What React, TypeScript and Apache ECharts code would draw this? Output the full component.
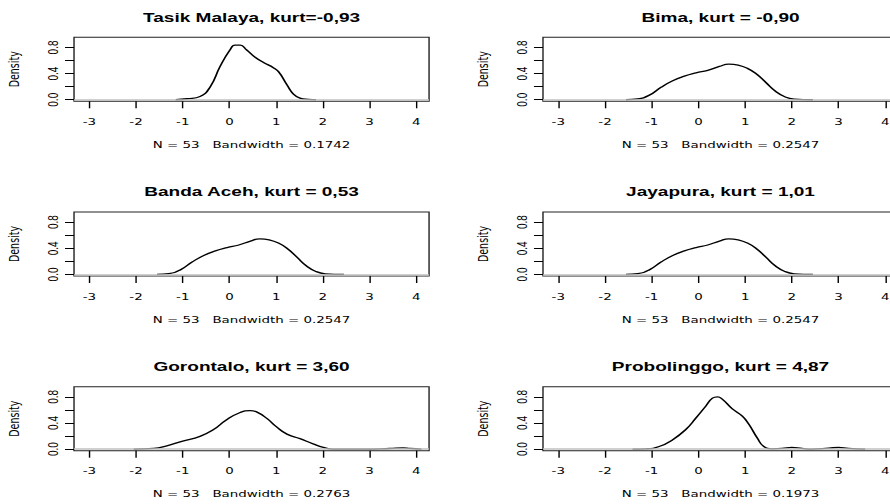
import React, { useEffect, useRef } from "react";
import * as echarts from "echarts";

// ---------- data ----------
const titles = [
  "Tasik Malaya, kurt=-0,93",
  "Bima, kurt = -0,90",
  "Banda Aceh, kurt = 0,53",
  "Jayapura, kurt = 1,01",
  "Gorontalo, kurt = 3,60",
  "Probolinggo, kurt = 4,87",
];
const sampleSize = 53;
const bandwidths = ["0.1742", "0.2547", "0.2547", "0.2547", "0.2763", "0.1973"];
const xTicks = [-3, -2, -1, 0, 1, 2, 3, 4];
const yTicks = [0, 0.2, 0.4, 0.6, 0.8];
const yTickLabels = [0, 0.4, 0.8];

const tasikX = [-1.15, -0.91, -0.63, -0.41, -0.2, 0.01, 0.12, 0.23, 0.37, 0.55, 0.73, 0.94, 1.05, 1.23, 1.37, 1.51, 1.69, 1.85];
const tasikY = [0, 0.015, 0.05, 0.2, 0.51, 0.76, 0.835, 0.835, 0.76, 0.65, 0.57, 0.49, 0.43, 0.23, 0.086, 0.025, 0.005, 0];

const bimaX = [-1.55, -1.3, -1.05, -0.8, -0.55, -0.3, -0.05, 0.2, 0.45, 0.65, 0.85, 1.05, 1.25, 1.45, 1.65, 1.85, 2.05, 2.45];
const bimaY = [0, 0.012, 0.07, 0.19, 0.29, 0.36, 0.41, 0.45, 0.51, 0.545, 0.53, 0.48, 0.39, 0.26, 0.13, 0.045, 0.01, 0];

const bandaAcehX = [-1.55, -1.3, -1.05, -0.8, -0.55, -0.3, -0.05, 0.2, 0.45, 0.65, 0.85, 1.05, 1.25, 1.45, 1.65, 1.85, 2.05, 2.45];
const bandaAcehY = [0, 0.012, 0.07, 0.19, 0.29, 0.36, 0.41, 0.45, 0.51, 0.545, 0.53, 0.48, 0.39, 0.26, 0.13, 0.045, 0.01, 0];

const jayapuraX = [-1.55, -1.3, -1.05, -0.8, -0.55, -0.3, -0.05, 0.2, 0.45, 0.65, 0.85, 1.05, 1.25, 1.45, 1.65, 1.85, 2.05, 2.45];
const jayapuraY = [0, 0.012, 0.07, 0.19, 0.29, 0.36, 0.41, 0.45, 0.51, 0.545, 0.53, 0.48, 0.39, 0.26, 0.13, 0.045, 0.01, 0];

const gorontaloX = [-2.05, -1.62, -1.34, -1.02, -0.63, -0.34, -0.06, 0.23, 0.44, 0.58, 0.8, 1.01, 1.23, 1.51, 1.79, 2.01, 2.22, 2.93, 3.43, 3.72, 3.86, 4.11];
const gorontaloY = [0, 0.01, 0.05, 0.12, 0.196, 0.3, 0.45, 0.56, 0.59, 0.57, 0.47, 0.34, 0.23, 0.16, 0.08, 0.026, 0, 0, 0.01, 0.02, 0.01, 0];

const probolinggoX = [-1.41, -1.12, -0.84, -0.55, -0.27, -0.06, 0.16, 0.3, 0.41, 0.51, 0.72, 0.94, 1.08, 1.26, 1.4, 1.58, 1.79, 2.0, 2.22, 2.43, 2.79, 3.0, 3.21, 3.57];
const probolinggoY = [0, 0.005, 0.04, 0.145, 0.3, 0.47, 0.66, 0.78, 0.8, 0.765, 0.62, 0.505, 0.38, 0.17, 0.04, 0.005, 0.01, 0.026, 0.01, 0, 0.015, 0.026, 0.01, 0];

const panelsX = [tasikX, bimaX, bandaAcehX, jayapuraX, gorontaloX, probolinggoX];
const panelsY = [tasikY, bimaY, bandaAcehY, jayapuraY, gorontaloY, probolinggoY];

// ---------- layout ----------
const STRETCH = 1.41;
const W = 645; // unscaled width (wider than the visible 890px window, clipped)
const H = 504;
const colLeft = [52.5, 385.1];
const gridW = 251.8;
const rowTop = [37.3, 212, 386.7];
const gridH = 64;
const X_MIN = -3.327;
const X_MAX = 4.273;
const Y_MIN = -0.024;
const Y_MAX = 0.955;

const smallFont = '"DejaVu Sans", "Liberation Sans", sans-serif';
const mainFont = '"Liberation Sans", Arial, sans-serif';

export default function App() {
  const ref = useRef<HTMLDivElement>(null);
  useEffect(() => {
    if (!ref.current) return;
    const chart = echarts.init(ref.current, undefined, { renderer: "svg" });
    const grids: any[] = [];
    const xAxes: any[] = [];
    const yAxes: any[] = [];
    const series: any[] = [];
    const graphics: any[] = [];
    titles.forEach((t, i) => {
      const r = Math.floor(i / 2);
      const c = i % 2;
      const left = colLeft[c];
      const top = rowTop[r];
      grids.push({
        left,
        top,
        width: gridW,
        height: gridH,
        show: true,
        borderColor: "#222",
        borderWidth: 1,
        backgroundColor: "transparent",
      });
      xAxes.push({
        type: "value",
        gridIndex: i,
        min: X_MIN,
        max: X_MAX,
        axisLine: { show: false, onZero: false },
        axisTick: {
          show: true,
          length: 7,
          lineStyle: { color: "#000", width: 1 },
          customValues: xTicks,
        },
        axisLabel: {
          customValues: xTicks,
          fontFamily: smallFont,
          fontSize: 9.5,
          color: "#000",
          margin: 15.5,
          formatter: (v: number) => String(v),
        },
        splitLine: { show: false },
      });
      yAxes.push({
        type: "value",
        gridIndex: i,
        min: Y_MIN,
        max: Y_MAX,
        axisLine: { show: false, onZero: false },
        axisTick: {
          show: true,
          length: 6.4,
          lineStyle: { color: "#000", width: 1 },
          customValues: yTicks,
        },
        axisLabel: {
          customValues: yTickLabels,
          rotate: 90,
          fontFamily: mainFont,
          fontSize: 10,
          color: "#000",
          margin: 9.5,
          formatter: (v: number) => v.toFixed(1),
        },
        splitLine: { show: false },
      });
      const xs = panelsX[i];
      const ys = panelsY[i];
      series.push({
        type: "line",
        xAxisIndex: i,
        yAxisIndex: i,
        data: xs.map((x, j) => [x, ys[j]]),
        showSymbol: false,
        smooth: 0.5,
        lineStyle: { color: "#000", width: 1.3 },
        z: 2,
        markLine: {
          silent: true,
          symbol: ["none", "none"],
          label: { show: false },
          lineStyle: { color: "#c0c0c0", width: 1.5, type: "solid" },
          data: [{ yAxis: 0 }],
          z: 3,
        },
      });
      graphics.push({
        type: "text",
        x: left + gridW / 2,
        y: top - 20.5,
        style: {
          text: t,
          font: `bold 13.5px ${mainFont}`,
          fill: "#000",
          align: "center",
          verticalAlign: "middle",
          textAlign: "center",
          textVerticalAlign: "middle",
        },
      });
      graphics.push({
        type: "text",
        x: left + gridW / 2,
        y: top + 107.5,
        style: {
          text: `N = ${sampleSize}   Bandwidth = ${bandwidths[i]}`,
          font: `9.5px ${smallFont}`,
          fill: "#000",
          align: "center",
          verticalAlign: "middle",
          textAlign: "center",
          textVerticalAlign: "middle",
        },
      });
      graphics.push({
        type: "text",
        x: left - 42.6,
        y: top + gridH / 2,
        rotation: Math.PI / 2,
        style: {
          text: "Density",
          font: `9.5px ${smallFont}`,
          fill: "#000",
          align: "center",
          verticalAlign: "middle",
          textAlign: "center",
          textVerticalAlign: "middle",
        },
      });
    });
    chart.setOption({
      animation: false,
      backgroundColor: "#fff",
      grid: grids,
      xAxis: xAxes,
      yAxis: yAxes,
      series,
      graphic: graphics,
    });
    return () => chart.dispose();
  }, []);
  return (
    <div
      style={{
        position: "absolute",
        left: 0,
        top: 0,
        width: 890,
        height: H,
        overflow: "hidden",
        background: "#fff",
      }}
    >
      <div
        ref={ref}
        style={{
          width: W,
          height: H,
          transform: `scaleX(${STRETCH})`,
          transformOrigin: "0 0",
        }}
      />
    </div>
  );
}
